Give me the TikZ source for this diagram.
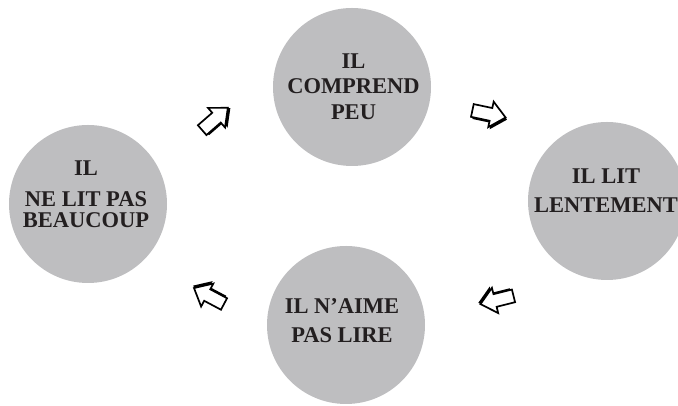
\documentclass[tikz,border=0pt]{standalone}
\usepackage{fontspec}
\setmainfont{Liberation Serif}
\definecolor{bubblegray}{RGB}{190,190,192}
\definecolor{inkblack}{RGB}{35,31,32}
\tikzset{
  bubble/.style={circle, fill=bubblegray, minimum size=158pt, inner sep=0pt},
  txt/.style={align=center, text=inkblack, inner sep=0pt},
  pics/blockarrow/.style={code={
    \begin{scope}[rotate=#1]
      \fill[black] ([shift={(1.8,-1.8)}]-17,-6.5) -- ++(19,0) -- ++(0,-6.5) -- ++(15,13) -- ++(-15,13) -- ++(0,-6.5) -- ++(-19,0) -- cycle;
      \draw[black, fill=white, line width=1.7pt, line join=miter]
        (-17,-6.5) -- (2,-6.5) -- (2,-13) -- (17,0) -- (2,13) -- (2,6.5) -- (-17,6.5) -- cycle;
    \end{scope}
  }}
}
\begin{document}
\begin{tikzpicture}[x=1pt,y=1pt]
\useasboundingbox (0,0) rectangle (678,406);
% circles
\node[bubble] (top) at (352,319) {};
\node[bubble] (left) at (88,202) {};
\node[bubble] (right) at (607,205) {};
\node[bubble] (bottom) at (346,81) {};
% texts
\node[txt, font=\fontsize{22.5}{25.5}\selectfont\bfseries] (toptxt) at (353.5,319.5) {IL\\COMPREND\\PEU};
\node[txt, font=\fontsize{22.5}{21.5}\selectfont\bfseries] (lefttxt) at (86,212) {IL\\[9.5pt]NE LIT PAS\\BEAUCOUP};
\node[txt, font=\fontsize{22.5}{29.5}\selectfont\bfseries] (righttxt) at (606,215.5) {IL LIT\\LENTEMENT};
\node[txt, font=\fontsize{22.5}{29}\selectfont\bfseries] (bottomtxt) at (342,85.5) {IL N’AIME\\PAS LIRE};
% arrows
\pic (a1) at (215,287) {blockarrow=41};
\pic (a2) at (489,292) {blockarrow=-12};
\pic (a3) at (497,106) {blockarrow=194};
\pic (a4) at (209,110) {blockarrow=152};
\end{tikzpicture}
\end{document}
